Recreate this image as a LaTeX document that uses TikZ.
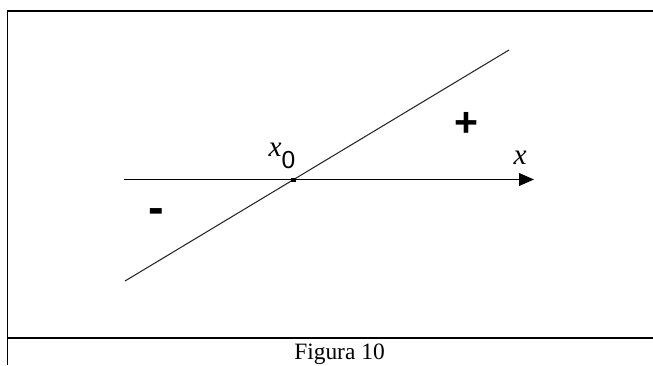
\documentclass[tikz,border=0pt]{standalone}
\usepackage{fontspec}
\setmainfont{Liberation Serif}
\setsansfont{Liberation Sans}
\usetikzlibrary{arrows.meta,positioning}
\tikzstyle{frame} = [line width=1.5pt, black]
\tikzstyle{axis} = [line width=1.5pt, -{Triangle[length=0.45cm, width=0.38cm]}]
\tikzstyle{graphline} = [line width=0.9pt, black!85]
\tikzstyle{point} = [rectangle, fill=black, inner sep=0pt, minimum width=0.17cm, minimum height=0.12cm]
\tikzstyle{sign} = [inner sep=0pt, font=\sffamily\bfseries\fontsize{35}{35}\selectfont]
\tikzstyle{lab} = [inner sep=0pt, font=\fontsize{25}{25}\selectfont]

\begin{document}
\begin{tikzpicture}[x=0.03cm, y=-0.03cm]
  \useasboundingbox (0,0) rectangle (653,365);
  % table lines
  \draw[frame] (7.5,365) -- (7.5,11) -- (653,11);
  \draw[frame] (7.5,338) -- (653,338);
  % axis and line
  \coordinate (axisstart) at (124,179.5);
  \coordinate (axisend) at (534,179.5);
  \coordinate (linestart) at (125,281);
  \coordinate (lineend) at (509,50);
  \draw[axis] (axisstart)--(axisend);
  \draw[graphline] (linestart)--(lineend);
  \node (x0)[point] at (293.5,179.5){};
  % labels
  \node (x0lab)[lab] at (282,156){\textit{x}\raisebox{-0.4em}{\sffamily\fontsize{21}{21}\selectfont 0}};
  \node (xlab)[lab] at (520,158){\textit{x}};
  \node (plus)[sign] at (466,124){+};
  \node (minus)[sign, font=\sffamily\bfseries\fontsize{40}{40}\selectfont] at (156,216.5){-};
  \node (caption)[anchor=base, font=\fontsize{20}{20}\selectfont] at (339.5,359.5){Figura 10};
\end{tikzpicture}
\end{document}
